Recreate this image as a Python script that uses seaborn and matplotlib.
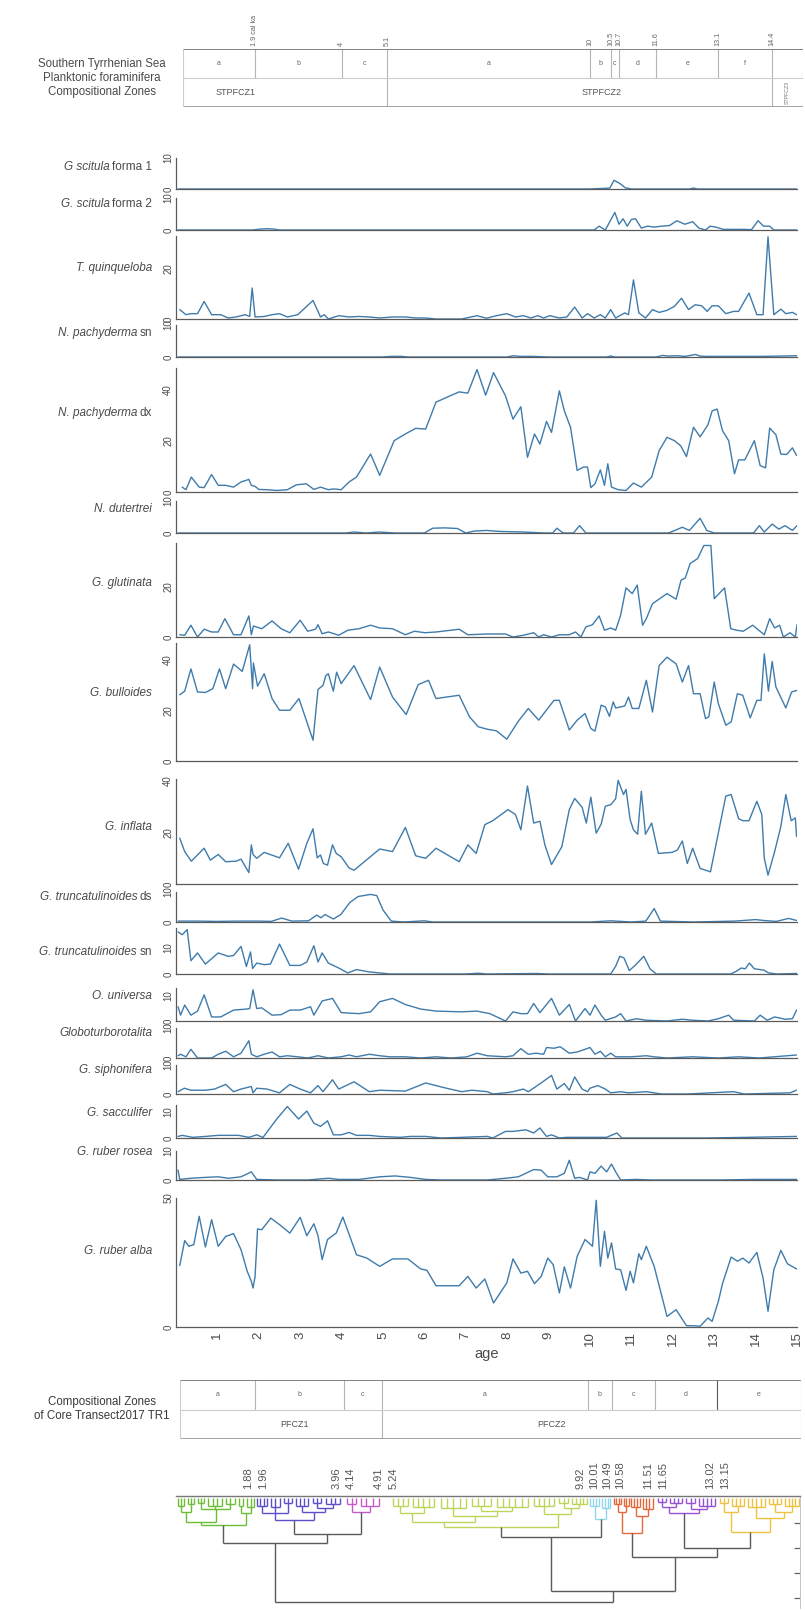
import matplotlib
matplotlib.use("Agg")
import matplotlib.pyplot as plt
import seaborn as sns
from matplotlib.ticker import FixedLocator, MultipleLocator, NullFormatter

# ---------------------------------------------------------------- data
# relative abundances (%) per species against age (cal ka BP)
s1_age = [0.05, 1.0, 2.0, 3.0, 4.0, 5.0, 6.0, 7.0, 8.0, 9.0, 10.0, 10.48, 10.58, 10.72, 10.85, 11.0, 12.4, 12.5, 12.6, 13.5, 15.0]
s1_val = [0, 0, 0, 0, 0, 0, 0, 0, 0, 0, 0, 0.3, 2.8, 1.8, 0.4, 0, 0, 0.3, 0, 0, 0]

s2_age = [0.05, 1.0, 1.85, 2.05, 2.2, 2.35, 2.5, 3.5, 5.0, 7.0, 9.0, 10.1, 10.22, 10.37, 10.6, 10.7, 10.8, 10.9, 11.0, 11.1,
          11.24, 11.39, 11.55, 11.73, 11.92, 12.1, 12.29, 12.48, 12.63, 12.79, 12.9, 13.04, 13.22, 13.47, 13.7, 13.9,
          14.06, 14.19, 14.34, 14.44, 14.7, 15.0]
s2_val = [0, 0, 0, 0.3, 0.4, 0.3, 0, 0, 0, 0, 0, 0, 1.2, 0, 5.5, 1.8, 3.5, 1.2, 3.3, 3.5,
          0.6, 1.2, 0.9, 1.2, 1.4, 2.9, 1.8, 2.6, 0.6, 0, 1.2, 0.9, 0.2, 0.2, 0.2, 0.1,
          2.9, 1.2, 1.2, 0, 0, 0]

tq_age = [0.09, 0.24, 0.36, 0.52, 0.68, 0.86, 1.08, 1.26, 1.45, 1.67, 1.78, 1.84, 1.91, 2.13, 2.32, 2.5, 2.69, 2.94, 3.31, 3.49,
          3.58, 3.68, 3.93, 4.18, 4.42, 4.67, 4.92, 5.23, 5.54, 5.79, 6.03, 6.28, 6.53, 6.9, 7.27, 7.5, 7.74, 7.99, 8.2, 8.39,
          8.57, 8.74, 8.88, 9.03, 9.26, 9.44, 9.63, 9.81, 9.94, 10.1, 10.25, 10.37, 10.5, 10.62, 10.84, 10.93, 11.05, 11.18,
          11.34, 11.51, 11.67, 11.86, 12.04, 12.21, 12.38, 12.54, 12.7, 12.83, 12.95, 13.1, 13.28, 13.47, 13.59, 13.84,
          14.03, 14.18, 14.3, 14.44, 14.61, 14.73, 14.89, 14.99]
tq_val = [3.7, 1.7, 2.1, 2.1, 6.9, 1.7, 1.7, 0.4, 0.8, 1.7, 1.0, 12.2, 0.8, 1.0, 1.7, 2.1, 0.8, 1.7, 7.3, 0.8,
          1.7, 0, 1.3, 0.8, 1.0, 0.8, 0.4, 0.8, 0.8, 0.4, 0.4, 0, 0, 0, 1.3, 0.3, 1.3, 2.1, 0.8, 1.3,
          0.4, 1.3, 0.4, 1.3, 0.4, 0.8, 4.7, 0.4, 2.1, 0.4, 1.7, 0.4, 3.7, 0.4, 2.4, 1.7, 15.4, 2.4,
          0.4, 3.7, 2.6, 3.4, 5.0, 8.2, 3.7, 5.6, 5.2, 3.0, 5.2, 5.2, 2.1, 3.0, 3.0, 10.2,
          1.7, 1.7, 32.4, 1.7, 3.9, 2.1, 2.6, 1.7]

sn_age = [0.05, 5.0, 5.2, 5.45, 5.6, 6.0, 8.0, 8.15, 8.3, 8.6, 9.0, 10.4, 10.5, 10.6, 11.6, 11.75, 11.9, 12.1, 12.3, 12.55,
          12.65, 12.8, 13.2, 13.6, 14.2, 15.0]
sn_val = [0, 0, 0.2, 0.2, 0, 0, 0, 0.4, 0.2, 0.2, 0, 0, 0.3, 0, 0, 0.5, 0.3, 0.4, 0.2, 0.8,
          0.3, 0.2, 0.2, 0.2, 0.2, 0.4]

dx_age = [0.15, 0.24, 0.37, 0.56, 0.68, 0.86, 1.02, 1.2, 1.39, 1.57, 1.76, 1.82, 1.91, 2.0, 2.19, 2.44, 2.69, 2.91, 3.15, 3.33,
          3.49, 3.68, 3.8, 3.99, 4.18, 4.36, 4.7, 4.92, 5.27, 5.54, 5.79, 6.03, 6.28, 6.53, 6.84, 7.05, 7.27, 7.48, 7.67, 7.96,
          8.14, 8.33, 8.49, 8.66, 8.79, 8.95, 9.07, 9.26, 9.38, 9.53, 9.69, 9.84, 9.94, 10.02, 10.12, 10.25, 10.35, 10.43,
          10.52, 10.68, 10.87, 11.05, 11.24, 11.49, 11.67, 11.86, 12.04, 12.19, 12.33, 12.5, 12.66, 12.85, 12.95, 13.07,
          13.2, 13.35, 13.49, 13.59, 13.74, 13.97, 14.11, 14.24, 14.34, 14.49, 14.61, 14.75, 14.89, 14.99]
dx_val = [1.9, 0.9, 5.8, 1.9, 1.7, 6.8, 2.6, 2.6, 1.9, 3.9, 4.9, 2.6, 2.2, 1.0, 0.9, 0.6, 0.9, 2.8, 3.2, 1.0,
          1.9, 0.9, 1.2, 0.9, 3.9, 5.8, 14.8, 6.5, 20.0, 22.6, 24.8, 24.5, 35.0, 36.8, 39.0, 38.5, 47.7, 37.7, 46.5, 37.4,
          28.4, 33.2, 13.5, 22.6, 18.7, 27.5, 23.2, 39.4, 31.6, 25.2, 8.4, 9.7, 9.7, 1.7, 3.2, 8.6, 2.6, 11.0,
          1.9, 0.9, 0.6, 3.5, 1.9, 5.8, 16.1, 21.3, 20.0, 18.0, 13.8, 25.2, 21.5, 26.2, 31.6, 32.3,
          23.9, 20.0, 7.1, 12.5, 12.5, 20.0, 10.3, 9.4, 24.9, 22.3, 14.8, 14.6, 17.2, 14.2]

du_age = [0.05, 4.1, 4.3, 4.6, 4.9, 5.3, 6.0, 6.2, 6.5, 6.8, 7.0, 7.2, 7.5, 7.8, 8.1, 8.4, 8.9, 9.1, 9.2, 9.35,
          9.6, 9.75, 9.9, 10.5, 11.5, 11.9, 12.05, 12.23, 12.4, 12.66, 12.82, 13.0, 13.8, 13.95, 14.09, 14.21, 14.4,
          14.56, 14.71, 14.89, 15.0]
du_val = [0, 0, 0.3, 0, 0.3, 0, 0, 1.5, 1.6, 1.4, 0, 0.6, 0.8, 0.5, 0.4, 0.3, 0, 0, 1.5, 0,
          0, 2.3, 0, 0, 0, 0, 0.8, 1.8, 0.8, 4.6, 0.8, 0, 0, 0, 2.3, 0.3, 2.8,
          1.2, 2.3, 0.8, 2.3]

gl_age = [0.09, 0.21, 0.36, 0.52, 0.68, 0.86, 1.02, 1.18, 1.39, 1.57, 1.76, 1.82, 1.87, 2.07, 2.32, 2.54, 2.75, 3.0, 3.18, 3.37,
          3.43, 3.53, 3.68, 3.93, 4.15, 4.42, 4.7, 4.92, 5.23, 5.54, 5.76, 6.01, 6.28, 6.84, 7.05, 7.52, 7.96, 8.14, 8.39, 8.64,
          8.76, 8.88, 9.07, 9.26, 9.5, 9.65, 9.78, 9.9, 10.06, 10.22, 10.35, 10.5, 10.62, 10.74, 10.87, 11.02, 11.14, 11.27,
          11.36, 11.51, 11.86, 12.08, 12.2, 12.3, 12.42, 12.6, 12.75, 12.92, 13.0, 13.25, 13.4, 13.55, 13.7, 13.93, 14.21,
          14.34, 14.46, 14.58, 14.67, 14.83, 14.96, 15.0]
gl_val = [0.9, 0.7, 4.7, 0, 3.1, 2.0, 2.0, 7.3, 0.9, 0.9, 8.4, 0.9, 4.4, 3.3, 6.4, 3.3, 1.7, 6.7, 2.3, 3.1,
          4.9, 1.3, 2.0, 0.7, 2.7, 3.3, 4.7, 3.6, 3.3, 0.9, 2.3, 1.7, 2.0, 3.1, 0.9, 1.2, 1.2, 0, 0.7, 1.7,
          0, 0.9, 0, 0.9, 0.9, 2.0, 0, 4.0, 4.9, 8.4, 2.7, 3.6, 2.7, 8.7, 19.6, 17.3, 20.7, 4.7,
          7.3, 13.3, 17.3, 15.1, 22.7, 23.5, 29.3, 31.3, 36.5, 36.5, 15.3, 19.6, 3.3, 2.7, 2.3, 4.7, 0.9,
          7.3, 3.6, 4.7, 0, 1.7, 0, 4.9]

bu_age = [0.09, 0.21, 0.36, 0.52, 0.71, 0.89, 1.05, 1.2, 1.39, 1.6, 1.78, 1.85, 1.87, 1.97, 2.13, 2.32, 2.5, 2.75, 2.97, 3.31,
          3.43, 3.55, 3.62, 3.68, 3.8, 3.88, 3.99, 4.3, 4.7, 4.92, 5.23, 5.56, 5.85, 6.1, 6.28, 6.53, 6.84, 7.09, 7.3, 7.52,
          7.74, 7.99, 8.27, 8.51, 8.76, 9.13, 9.26, 9.5, 9.69, 9.88, 10.02, 10.12, 10.27, 10.37, 10.47, 10.56, 10.62, 10.74,
          10.84, 10.93, 11.02, 11.18, 11.36, 11.51, 11.67, 11.86, 12.08, 12.23, 12.38, 12.5, 12.66, 12.79, 12.87, 13.0,
          13.1, 13.28, 13.41, 13.56, 13.69, 13.87, 14.03, 14.13, 14.21, 14.31, 14.4, 14.49, 14.73, 14.87, 14.99]
bu_val = [26.1, 27.5, 36.3, 27.2, 27.0, 28.5, 36.3, 28.5, 38.2, 35.3, 45.8, 28.5, 38.6, 29.5, 34.4, 24.6, 20.0, 20.0, 24.6, 8.2,
          28.2, 29.8, 33.7, 34.4, 27.5, 35.0, 30.5, 37.6, 24.2, 37.0, 25.2, 18.3, 30.1, 31.8, 24.6, 25.2, 25.9, 17.4, 13.5, 12.5,
          11.9, 8.6, 15.7, 20.7, 16.1, 23.9, 23.9, 12.2, 16.1, 18.7, 12.8, 11.8, 22.0, 21.3, 17.6, 23.3, 20.9, 21.3,
          21.7, 25.2, 20.7, 20.7, 31.8, 19.3, 37.6, 40.9, 38.3, 31.1, 37.6, 26.5, 26.5, 16.7, 17.4, 31.1,
          22.6, 14.1, 15.4, 26.5, 25.9, 17.0, 23.9, 23.9, 42.2, 27.5, 39.2, 29.2, 20.9, 27.2, 27.8]

in_age = [0.09, 0.21, 0.37, 0.68, 0.83, 1.02, 1.2, 1.45, 1.57, 1.76, 1.82, 1.86, 1.95, 2.13, 2.5, 2.71, 2.96, 3.16, 3.31, 3.41,
          3.49, 3.56, 3.66, 3.78, 3.87, 3.99, 4.18, 4.3, 4.92, 5.23, 5.54, 5.79, 6.03, 6.28, 6.84, 7.05, 7.25, 7.46, 7.65, 8.02,
          8.2, 8.33, 8.49, 8.64, 8.79, 8.91, 9.07, 9.32, 9.5, 9.63, 9.81, 9.91, 10.02, 10.15, 10.27, 10.37, 10.5, 10.62,
          10.68, 10.81, 10.87, 10.97, 11.05, 11.15, 11.24, 11.34, 11.49, 11.65, 11.98, 12.11, 12.23, 12.35, 12.48, 12.66,
          12.91, 13.28, 13.41, 13.59, 13.69, 13.84, 14.03, 14.15, 14.21, 14.3, 14.46, 14.61, 14.73, 14.86, 14.96, 14.99]
in_val = [17.7, 12.5, 8.8, 13.8, 9.2, 11.4, 8.6, 8.8, 9.6, 4.4, 15.1, 11.4, 9.9, 12.2, 10.1, 15.7, 5.7, 15.7, 21.3, 10.1,
          11.2, 7.9, 7.3, 15.1, 11.8, 10.5, 6.2, 5.3, 13.5, 12.5, 21.8, 10.9, 9.9, 13.8, 8.6, 15.1, 11.8, 22.9, 24.4, 28.7,
          26.8, 20.9, 37.8, 23.5, 24.2, 15.1, 7.5, 14.4, 28.7, 33.0, 29.6, 23.5, 33.5, 19.6, 23.1, 30.0, 30.6, 32.9,
          40.0, 34.5, 36.5, 24.8, 20.9, 19.2, 35.8, 19.2, 23.5, 11.8, 12.2, 13.1, 16.6, 7.9, 13.8, 6.0,
          4.7, 33.9, 34.5, 25.2, 24.4, 24.4, 31.9, 26.8, 9.9, 3.4, 12.5, 22.2, 34.5, 24.4, 25.5, 18.3]

ds_age = [0.05, 0.5, 1.0, 1.5, 2.0, 2.3, 2.55, 2.8, 3.2, 3.4, 3.5, 3.6, 3.8, 3.98, 4.2, 4.4, 4.7, 4.85, 5.0, 5.2,
          5.5, 6.0, 6.2, 8.0, 10.0, 10.5, 11.0, 11.35, 11.55, 11.7, 12.5, 13.5, 14.0, 14.2, 14.5, 14.8, 14.99]
ds_val = [0.3, 0.3, 0.2, 0.3, 0.3, 0.2, 1.3, 0.3, 0.4, 2.3, 1.4, 2.5, 1.0, 2.5, 6.5, 8.5, 9.2, 8.8, 4.0, 0.3,
          0, 0.4, 0, 0, 0, 0.4, 0, 0.3, 4.5, 0.3, 0, 0.3, 0.8, 0.5, 0.2, 1.2, 0.5]

ts_age = [0.05, 0.15, 0.27, 0.36, 0.52, 0.71, 1.02, 1.26, 1.39, 1.57, 1.7, 1.8, 1.85, 1.95, 2.13, 2.28, 2.5, 2.75, 3.0, 3.16,
          3.33, 3.43, 3.53, 3.68, 3.93, 4.15, 4.36, 4.67, 4.92, 5.17, 7.0, 7.3, 7.5, 8.7, 9.0, 10.5, 10.62, 10.72, 10.82,
          10.95, 11.1, 11.3, 11.45, 11.6, 13.4, 13.55, 13.65, 13.75, 13.85, 13.97, 14.2, 14.3, 14.5, 15.0]
ts_val = [16.2, 15.1, 17.1, 5.1, 8.1, 3.8, 8.1, 6.8, 7.1, 10.6, 2.9, 8.5, 2.1, 4.2, 3.6, 3.8, 11.5, 3.3, 3.3, 4.6,
          10.9, 4.6, 8.1, 4.2, 2.3, 0.4, 1.7, 0.8, 0.4, 0, 0, 0.3, 0, 0.2, 0, 0, 3.0, 6.8, 6.2,
          1.3, 3.5, 6.8, 2.0, 0, 0, 1.2, 2.3, 2.0, 4.2, 2.0, 1.5, 0.5, 0, 0.2]

un_age = [0.05, 0.11, 0.21, 0.36, 0.52, 0.68, 0.86, 1.08, 1.39, 1.7, 1.78, 1.86, 1.95, 2.07, 2.32, 2.54, 2.75, 3.0, 3.25, 3.33,
          3.53, 3.78, 3.99, 4.42, 4.7, 4.92, 5.23, 5.54, 5.91, 6.28, 6.9, 7.27, 7.58, 7.96, 8.14, 8.33, 8.49, 8.64, 8.79, 9.07,
          9.26, 9.5, 9.65, 9.88, 10.0, 10.12, 10.27, 10.37, 10.62, 10.74, 10.87, 11.12, 11.36, 11.86, 12.23, 12.48, 12.85,
          13.1, 13.35, 13.47, 13.97, 14.11, 14.28, 14.46, 14.71, 14.89, 14.99]
un_val = [5.6, 2.3, 6.3, 2.3, 3.9, 10.3, 1.6, 1.6, 4.3, 4.7, 4.9, 12.3, 4.9, 5.2, 2.3, 2.5, 4.3, 4.3, 5.6, 2.3,
          7.9, 8.9, 3.3, 2.9, 3.6, 7.6, 8.9, 6.5, 4.7, 3.9, 3.6, 3.9, 2.9, 0, 3.6, 2.9, 2.9, 6.9, 3.3, 8.9,
          2.3, 6.5, 0, 4.9, 2.3, 6.3, 2.3, 0.3, 1.6, 2.9, 0, 0.9, 0.3, 0, 0.7, 0.3, 0,
          0.9, 2.3, 0.3, 0, 2.3, 0.3, 1.6, 0.7, 0.9, 4.3]

gb_age = [0.05, 0.11, 0.24, 0.36, 0.52, 0.86, 1.02, 1.2, 1.39, 1.57, 1.76, 1.82, 1.95, 2.13, 2.32, 2.5, 2.69, 2.94, 3.18, 3.43,
          3.68, 3.99, 4.18, 4.36, 4.67, 4.92, 5.17, 5.54, 5.91, 6.28, 6.65, 7.03, 7.27, 7.52, 7.96, 8.14, 8.33, 8.51, 8.7, 8.88,
          8.95, 9.13, 9.28, 9.5, 9.69, 9.88, 10.0, 10.12, 10.25, 10.37, 10.5, 10.62, 10.99, 11.36, 11.55, 11.86, 12.48, 13.1,
          13.59, 14.09, 14.99]
gb_val = [0.75, 1.25, 0.4, 2.9, 0, 0, 1.25, 2.25, 0.4, 1.6, 5.75, 1.25, 0.4, 1.25, 2.0, 0.4, 0.75, 0.4, 0, 0.75,
          0, 0.4, 1.0, 0.4, 1.25, 0.75, 0.4, 0.4, 0, 0.4, 0, 0.4, 1.6, 0.75, 0.4, 0.75, 3.1, 1.25, 1.6, 1.25,
          3.5, 3.25, 3.75, 1.6, 2.0, 2.9, 3.5, 1.25, 2.25, 0.4, 1.6, 0.4, 0.4, 0.75, 0.4, 0, 0.4, 0,
          0.4, 0, 1.0]

sp_age = [0.05, 0.2, 0.36, 0.52, 0.71, 0.93, 1.2, 1.39, 1.57, 1.82, 1.86, 1.95, 2.2, 2.5, 2.75, 3.0, 3.25, 3.43, 3.55, 3.78,
          3.93, 4.3, 4.67, 4.92, 5.54, 6.03, 6.53, 6.9, 7.15, 7.52, 7.65, 7.96, 8.14, 8.39, 8.51, 8.82, 9.07, 9.2, 9.38, 9.5,
          9.63, 9.81, 9.94, 10.0, 10.19, 10.37, 10.5, 10.74, 10.93, 11.36, 11.73, 12.35, 13.47, 13.72, 14.83, 14.99]
sp_val = [0.8, 2.0, 1.3, 1.3, 1.3, 1.7, 3.3, 0.8, 1.7, 2.6, 0.4, 2.0, 1.7, 0.4, 3.3, 1.7, 0.4, 2.9, 0.8, 4.9,
          1.7, 4.2, 0.8, 1.3, 1.0, 3.8, 2.0, 0.8, 1.3, 0.8, 0, 0.4, 0.8, 1.7, 0.8, 3.8, 6.4, 1.7, 3.6, 1.3,
          5.9, 1.7, 0.8, 2.0, 2.9, 1.7, 0.4, 0.8, 0.4, 0.8, 0, 0, 0.8, 0, 0.4, 1.3]

sc_age = [0.05, 0.15, 0.4, 0.71, 1.02, 1.26, 1.51, 1.76, 1.95, 2.1, 2.45, 2.69, 2.96, 3.16, 3.33, 3.49, 3.66, 3.8, 3.99, 4.18,
          4.36, 4.67, 4.92, 5.42, 5.66, 6.03, 6.4, 6.9, 7.52, 7.65, 7.96, 8.14, 8.45, 8.64, 8.79, 8.95, 9.07, 9.26, 9.44, 9.94,
          10.4, 10.65, 10.77, 11.6, 12.8, 13.8, 14.99]
sc_val = [0.6, 1.0, 0.25, 0.6, 1.0, 1.0, 1.0, 0.25, 1.2, 0.2, 7.5, 11.9, 7.2, 10.2, 5.6, 4.4, 6.5, 1.2, 1.2, 2.1,
          1.0, 1.0, 0.6, 0.25, 0.6, 0.6, 0, 0.25, 0.6, 0, 2.5, 2.5, 3.1, 1.9, 3.8, 0.6, 1.2, 0, 0.25, 0.25,
          0.25, 1.9, 0, 0, 0, 0.25, 0.6]

ro_age = [0.05, 0.09, 0.36, 0.71, 1.02, 1.27, 1.57, 1.82, 1.95, 2.44, 3.18, 3.68, 3.93, 4.42, 4.92, 5.29, 5.66, 6.03, 6.4, 6.9,
          7.52, 7.96, 8.27, 8.64, 8.82, 8.98, 9.2, 9.38, 9.5, 9.63, 9.75, 9.94, 10.0, 10.12, 10.27, 10.4, 10.52, 10.62, 10.74,
          11.12, 11.49, 11.86, 13.1, 13.97, 14.99]
ro_val = [3.4, 0.2, 0.6, 0.9, 1.1, 0.6, 1.1, 2.8, 0.2, 0, 0, 0.6, 0.2, 0.2, 1.1, 1.4, 0.9, 0.2, 0, 0,
          0, 0.6, 1.1, 3.6, 3.4, 1.1, 1.1, 2.3, 6.8, 0.6, 0.9, 0, 2.8, 2.3, 4.8, 2.8, 5.5, 2.8, 0,
          0.2, 0, 0, 0, 0.2, 0.2]

al_age = [0.09, 0.21, 0.31, 0.43, 0.56, 0.71, 0.86, 1.02, 1.2, 1.39, 1.57, 1.72, 1.82, 1.86, 1.91, 1.97, 2.07, 2.29, 2.5, 2.75,
          3.0, 3.16, 3.33, 3.43, 3.53, 3.66, 3.87, 4.03, 4.36, 4.61, 4.92, 5.23, 5.6, 5.91, 6.06, 6.28, 6.84, 7.05, 7.25, 7.46,
          7.67, 7.99, 8.14, 8.33, 8.49, 8.66, 8.82, 8.98, 9.11, 9.26, 9.38, 9.53, 9.69, 9.88, 10.06, 10.15, 10.25, 10.35,
          10.43, 10.52, 10.62, 10.74, 10.87, 10.97, 11.05, 11.18, 11.24, 11.36, 11.55, 11.86, 12.08, 12.33, 12.5, 12.66,
          12.85, 12.95, 13.1, 13.2, 13.41, 13.56, 13.69, 13.84, 14.03, 14.18, 14.3, 14.44, 14.61, 14.77, 14.99]
al_val = [23.8, 33.5, 31.3, 31.9, 42.9, 31.0, 41.6, 31.3, 35.1, 36.2, 30.0, 21.6, 17.7, 15.1, 19.6, 38.0, 37.7, 42.2, 39.7, 36.4,
          42.5, 35.4, 40.0, 35.4, 26.1, 33.9, 36.4, 42.6, 28.0, 26.7, 23.5, 26.4, 26.4, 22.5, 22.0, 16.0, 16.0, 19.6, 15.1, 18.6,
          9.3, 17.1, 26.4, 20.9, 21.6, 16.8, 19.6, 26.7, 24.2, 13.2, 23.3, 15.1, 27.4, 33.9, 31.3, 49.1, 23.5, 37.1,
          26.7, 32.6, 22.5, 22.2, 14.2, 21.6, 17.1, 28.4, 26.1, 31.3, 23.5, 4.1, 6.7, 0.5, 0.5, 0.3,
          3.5, 2.2, 9.9, 16.8, 27.1, 25.5, 26.7, 24.8, 28.9, 19.0, 6.1, 22.2, 29.7, 24.5, 22.5]

# Southern Tyrrhenian Sea zonation (upper band)
sts_bounds = [1.9, 4, 5.1, 10, 10.5, 10.7, 11.6, 13.1, 14.4]
sts_bound_labels = ["1.9 cal ka", "4", "5.1", "10", "10.5", "10.7", "11.6", "13.1", "14.4"]
sts_subzones = ["a", "b", "c", "a", "b", "c", "d", "e", "f", ""]
sts_zone_bounds = [5.1, 14.4]
sts_zones = ["STPFCZ1", "STPFCZ2", "STPFCZ3"]

# core Transect2017 TR1 zonation (lower band)
tr1_bounds = [1.92, 4.05, 4.98, 9.95, 10.52, 11.56, 13.07]
tr1_subzones = ["a", "b", "c", "a", "b", "c", "d", "e"]
tr1_zone_bounds = [4.98]
tr1_zones = ["PFCZ1", "PFCZ2"]

# cluster tree: [height, child, child, ...]; leaves are sample ages
cl_green = [1.08,
            [0.95,
             [0.55, [0.3, 0.05, 0.12, 0.2], [0.25, 0.28, 0.36, 0.44]],
             [0.45, [0.2, 0.52, 0.6, 0.68], [0.3, 0.78, 0.9, 1.0, 1.1], [0.25, 1.2, 1.3, 1.42]]],
            [0.6, [0.3, 1.52, 1.62], [0.35, 1.72, 1.8, 1.88]]]
cl_violet = [0.88,
             [0.6, [0.3, 1.96, 2.04, 2.12, 2.2], [0.35, 2.3, 2.4, 2.5], [0.2, 2.6, 2.7, 2.8]],
             [0.55, [0.3, 2.9, 3.0, 3.1, 3.2], [0.4, [0.2, 3.3, 3.4, 3.5], [0.25, 3.62, 3.74, 3.85, 3.96]]]]
cl_magenta = [0.56, [0.25, 4.14, 4.24, 4.34], [0.3, 4.46, 4.6, 4.75, 4.91]]
cl_lime = [1.16,
           [0.95,
            [0.6, [0.3, 5.24, 5.36, 5.48, 5.6], [0.35, 5.72, 5.84, 5.96, 6.1, 6.24]],
            [0.7, [0.4, 6.4, 6.55, 6.7, 6.85, 7.0],
             [0.5, [0.3, 7.15, 7.3, 7.45, 7.6], [0.35, 7.75, 7.9, 8.05, 8.2, 8.35, 8.5]]]],
           [0.65, [0.3, 8.65, 8.78, 8.9, 9.02, 9.14],
            [0.4, [0.2, 9.26, 9.36, 9.46], [0.25, 9.56, 9.66, 9.76, 9.84, 9.92]]]]
cl_cyan = [0.84, [0.3, 10.01, 10.08, 10.15, 10.22], [0.4, 10.3, 10.37, 10.43, 10.49]]
cl_orange = [1.4,
             [0.55, [0.25, 10.58, 10.64, 10.7, 10.76], [0.3, 10.82, 10.88, 10.94]],
             [0.7, [0.35, 11.0, 11.07, 11.14, 11.2], [0.45, 11.27, 11.35, 11.43, 11.51]]]
cl_purple = [0.6,
             [0.35, [0.15, 11.65, 11.74, 11.83], [0.2, 11.93, 12.03, 12.13, 12.23]],
             [0.45, [0.2, 12.33, 12.43, 12.53], [0.3, 12.63, 12.73, 12.83, 12.93, 13.02]]]
cl_gold = [1.36,
           [0.55, [0.2, 13.15, 13.24, 13.33], [0.3, 13.42, 13.52, 13.62, 13.72]],
           [0.8, [0.35, 13.82, 13.92, 14.02, 14.12, 14.22],
            [0.55, [0.25, 14.32, 14.42, 14.52, 14.62], [0.3, 14.72, 14.8, 14.88, 14.96, 15.04]]]]
cl_upper = [4.16, [1.8, "green", [1.44, "violet", "magenta"]],
            [3.7, [1.56, "lime", "cyan"], [2.36, "orange", [2.0, "purple", "gold"]]]]
cluster_break_labels = [("1.88", "1.96"), ("3.96", "4.14"), ("4.91", "5.24"), ("9.92", "10.01"),
                        ("10.49", "10.58"), ("11.51", "11.65"), ("13.02", "13.15")]

# ---------------------------------------------------------------- style
sns.set_style("white")
plt.rcParams["font.family"] = ["Liberation Sans", "DejaVu Sans"]

LINE = "#3f7bab"
TXT = "#4a4a4a"
AX = "#5a5a5a"
GRID = "#b5b5b5"

W, H = 805, 1610
AGE0_PX, PX_PER_AGE = 176, 41.4

fig = plt.figure(figsize=(W / 100, H / 100), dpi=100)
fig.patch.set_facecolor("white")
renderer = fig.canvas.get_renderer()


def add_px_axes(left, top, right, bottom):
    return fig.add_axes([left / W, 1 - bottom / H, (right - left) / W, (bottom - top) / H])


def age_at(px):
    return (px - AGE0_PX) / PX_PER_AGE


def species_label(ypx, italic, upright):
    x = 152
    y = 1 - ypx / H
    if upright:
        t = fig.text(x / W, y, upright, ha="right", va="center", fontsize=8.5, color=TXT)
        bb = t.get_window_extent(renderer=renderer)
        x = bb.x0 - 2.5
    fig.text(x / W, y, italic, ha="right", va="center", fontsize=8.5, color=TXT, style="italic")


# ---------------------------------------------------------------- stratigraphic panels
panels = [
    ("G scitula", "forma 1", s1_age, s1_val, 158, 189, 10, [0, 10], [2, 4, 6, 8], 167),
    ("G. scitula", "forma 2", s2_age, s2_val, 198, 230, 10, [0, 10], [2, 4, 6, 8], 204),
    ("T. quinqueloba", "", tq_age, tq_val, 236, 319, 32.7, [0, 20], [10, 30], 268),
    ("N. pachyderma", "sn", sn_age, sn_val, 325, 357, 10, [0, 10], [2, 4, 6, 8], 333),
    ("N. pachyderma", "dx", dx_age, dx_val, 368, 492, 48.3, [0, 20, 40], [10, 30], 413),
    ("N. dutertrei", "", du_age, du_val, 501, 533, 10, [0, 10], [2, 4, 6, 8], 509),
    ("G. glutinata", "", gl_age, gl_val, 543, 637, 37.5, [0, 20], [10, 30], 583),
    ("G. bulloides", "", bu_age, bu_val, 643, 761, 46.5, [0, 20, 40], [10, 30], 693),
    ("G. inflata", "", in_age, in_val, 779, 884, 40.5, [0, 20, 40], [10, 30], 827),
    ("G. truncatulinoides", "ds", ds_age, ds_val, 892, 922, 10, [0, 10], [2, 4, 6, 8], 897),
    ("G. truncatulinoides", "sn", ts_age, ts_val, 928, 974, 17.7, [0, 10], [2, 4, 6, 8, 12, 14, 16], 952),
    ("O. universa", "", un_age, un_val, 988, 1021, 13, [0, 10], [2, 4, 6, 8, 12], 996),
    ("Globoturborotalita", "", gb_age, gb_val, 1028, 1058, 10, [0, 10], [2, 4, 6, 8], 1033),
    ("G. siphonifera", "", sp_age, sp_val, 1065, 1094, 10, [0, 10], [2, 4, 6, 8], 1070),
    ("G. sacculifer", "", sc_age, sc_val, 1105, 1138, 12.5, [0, 10], [2, 4, 6, 8, 12], 1113),
    ("G. ruber rosea", "", ro_age, ro_val, 1151, 1180, 10, [0, 10], [2, 4, 6, 8], 1152),
    ("G. ruber alba", "", al_age, al_val, 1198, 1327, 50, [0, 50], [10, 20, 30, 40], 1251),
]

for i, (ital, upr, xs, ys, top, bottom, ymax, ymaj, ymin, label_y) in enumerate(panels):
    last = i == len(panels) - 1
    ax = add_px_axes(AGE0_PX, top, AGE0_PX + 15 * PX_PER_AGE, bottom)
    ax.set_facecolor("none")
    sns.lineplot(x=xs, y=ys, ax=ax, color=LINE, linewidth=1.0, estimator=None, sort=False)
    ax.set_xlim(0, 15)
    ax.set_ylim(0, ymax)
    ax.set_xlabel("")
    ax.set_ylabel("")
    for side in ("top", "right"):
        ax.spines[side].set_visible(False)
    for side in ("left", "bottom"):
        ax.spines[side].set_color(AX)
        ax.spines[side].set_linewidth(0.9)

    ax.yaxis.set_major_locator(FixedLocator(ymaj))
    ax.yaxis.set_minor_locator(FixedLocator(ymin))
    ax.set_yticklabels([str(v) for v in ymaj])
    ax.tick_params(axis="y", which="major", direction="in", length=4, width=0.8, color=AX,
                   labelsize=7, labelcolor=TXT, pad=2, labelrotation=90)
    ax.tick_params(axis="y", which="minor", direction="in", length=2.5, width=0.7, color=AX)
    for lab in ax.get_yticklabels():
        lab.set_va("center")

    if last:
        ax.xaxis.set_major_locator(FixedLocator(list(range(1, 16))))
        ax.xaxis.set_minor_locator(MultipleLocator(0.25))
        ax.set_xticklabels([str(v) for v in range(1, 16)])
        ax.tick_params(axis="x", which="major", direction="in", length=5, width=0.8, color=AX,
                       labelsize=9.5, labelcolor=TXT, pad=3, labelrotation=90)
        ax.tick_params(axis="x", which="minor", direction="in", length=2.5, width=0.7, color=AX)
        ax.set_xlabel("age", fontsize=10.5, color=TXT, labelpad=1)
    else:
        ax.xaxis.set_major_locator(FixedLocator([5, 10, 15]))
        ax.xaxis.set_minor_locator(FixedLocator([v for v in range(1, 15) if v not in (5, 10)]))
        ax.xaxis.set_major_formatter(NullFormatter())
        ax.tick_params(axis="x", which="major", direction="in", length=7, width=0.8, color=AX)
        ax.tick_params(axis="x", which="minor", direction="in", length=4, width=0.8, color=AX)

    species_label(label_y, ital, upr)


# ---------------------------------------------------------------- zonation bands
def zone_band(ax, x_lo, x_hi, bounds, subzones, zone_bounds, zones, zone_label_x,
              dark_bounds=(), bound_labels=None):
    ax.set_xlim(x_lo, x_hi)
    ax.set_ylim(0, 2)
    ax.axis("off")
    edges = [x_lo] + list(bounds) + [x_hi]
    for k, lab in enumerate(subzones):
        ax.text((edges[k] + edges[k + 1]) / 2, 1.5, lab, ha="center", va="center",
                fontsize=5, color="#666666")
    for k, b in enumerate(bounds):
        full = b in zone_bounds
        col = AX if b in dark_bounds else GRID
        ax.plot([b, b], [0 if full else 1, 2], color=col, lw=0.8, solid_capstyle="butt")
        if bound_labels is not None:
            ax.text(b, 2.12, bound_labels[k], rotation=90, ha="center", va="bottom",
                    fontsize=5.2, color="#666666")
    zedges = [x_lo] + list(zone_bounds) + [x_hi]
    for k, lab in enumerate(zones):
        width = zedges[k + 1] - zedges[k]
        if width < 1.2:
            ax.text((zedges[k] + zedges[k + 1]) / 2, 0.5, lab, rotation=90, ha="center",
                    va="center", fontsize=3.8, color="#777777")
        else:
            ax.text(zone_label_x[k], 0.5, lab, ha="center", va="center", fontsize=6.5, color="#555555")
    ax.plot([x_lo, x_hi], [2, 2], color="#777777", lw=1.3, solid_capstyle="butt")
    ax.plot([x_lo, x_hi], [1, 1], color="#cccccc", lw=0.8)
    ax.plot([x_lo, x_hi], [0, 0], color="#8a8a8a", lw=1.1, solid_capstyle="butt")
    ax.plot([x_lo, x_lo], [0, 2], color="#cccccc", lw=0.8)
    ax.plot([x_hi, x_hi], [0, 2], color="#cccccc", lw=0.8)


ax_top = add_px_axes(183, 49, 803, 107)
zone_band(ax_top, age_at(183), age_at(803), sts_bounds, sts_subzones, sts_zone_bounds,
          sts_zones, [age_at(236), age_at(602), None], bound_labels=sts_bound_labels)
fig.text(102 / W, 1 - 78 / H, "Southern Tyrrhenian Sea\nPlanktonic foraminifera\nCompositional Zones",
         ha="center", va="center", fontsize=8.3, color=TXT, linespacing=1.25)

ax_bot = add_px_axes(180, 1380, 801, 1439)
zone_band(ax_bot, age_at(180), age_at(801), tr1_bounds, tr1_subzones, tr1_zone_bounds,
          tr1_zones, [age_at(294), age_at(551)], dark_bounds=(13.07,))
fig.text(102 / W, 1 - 1409 / H, "Compositional Zones\nof Core Transect2017 TR1",
         ha="center", va="center", fontsize=8.3, color="#3a3a3a", linespacing=1.2)

# ---------------------------------------------------------------- cluster dendrogram
CLUSTERS = {"green": cl_green, "violet": cl_violet, "magenta": cl_magenta, "lime": cl_lime,
            "cyan": cl_cyan, "orange": cl_orange, "purple": cl_purple, "gold": cl_gold}
CLUSTER_COLORS = {"green": "#6cbd34", "violet": "#5b4fc9", "magenta": "#c35ac9", "lime": "#bcd65a",
                  "cyan": "#8fd8ea", "orange": "#e3673a", "purple": "#9650d2", "gold": "#eec23e"}
LINK = "#5a5a5a"

ax_d = add_px_axes(AGE0_PX, 1496, 800, 1608)
ax_d.set_xlim(0, age_at(800))
ax_d.set_ylim(4.40, -0.08)


def draw_node(node, color):
    if isinstance(node, str):
        return draw_node(CLUSTERS[node], CLUSTER_COLORS[node])
    if isinstance(node, (int, float)):
        return float(node), 0.0
    h = node[0]
    kids = [draw_node(c, color) for c in node[1:]]
    xs = [k[0] for k in kids]
    for kx, kh in kids:
        ax_d.plot([kx, kx], [kh, h], color=color, lw=1.0, solid_capstyle="butt")
    ax_d.plot([min(xs), max(xs)], [h, h], color=color, lw=1.0, solid_capstyle="butt")
    return (xs[0] + xs[-1]) / 2, h


draw_node(cl_upper, LINK)

for side in ("left", "bottom"):
    ax_d.spines[side].set_visible(False)
ax_d.spines["top"].set_color("#777777")
ax_d.spines["top"].set_linewidth(1.0)
ax_d.spines["right"].set_color("#bbbbbb")
ax_d.spines["right"].set_linewidth(0.6)
ax_d.set_xticks([])
ax_d.yaxis.tick_right()
ax_d.set_yticks([1, 2, 3, 4])
ax_d.set_yticklabels([])
ax_d.tick_params(axis="y", direction="in", length=4, width=0.9, color="#666666")

# boundary sample labels: each pair flanks its break, spread so neighbours keep clear
label_px = []
for a, b in cluster_break_labels:
    centre = AGE0_PX + PX_PER_AGE * (float(a) + float(b)) / 2
    label_px += [[centre - 7.5, a], [centre + 7.5, b]]
MIN_GAP = 13.0
for _ in range(200):
    for k in range(1, len(label_px)):
        gap = label_px[k][0] - label_px[k - 1][0]
        if gap < MIN_GAP:
            shift = (MIN_GAP - gap) / 2
            label_px[k - 1][0] -= shift
            label_px[k][0] += shift
for px, lab in label_px:
    ax_d.text(age_at(px), 0, lab, rotation=90, ha="center", va="bottom", fontsize=8,
              color="#555555", clip_on=False,
              transform=ax_d.transData + matplotlib.transforms.ScaledTranslation(0, 9 / 100, fig.dpi_scale_trans))

fig.savefig("out.png", dpi=100, facecolor="white")
